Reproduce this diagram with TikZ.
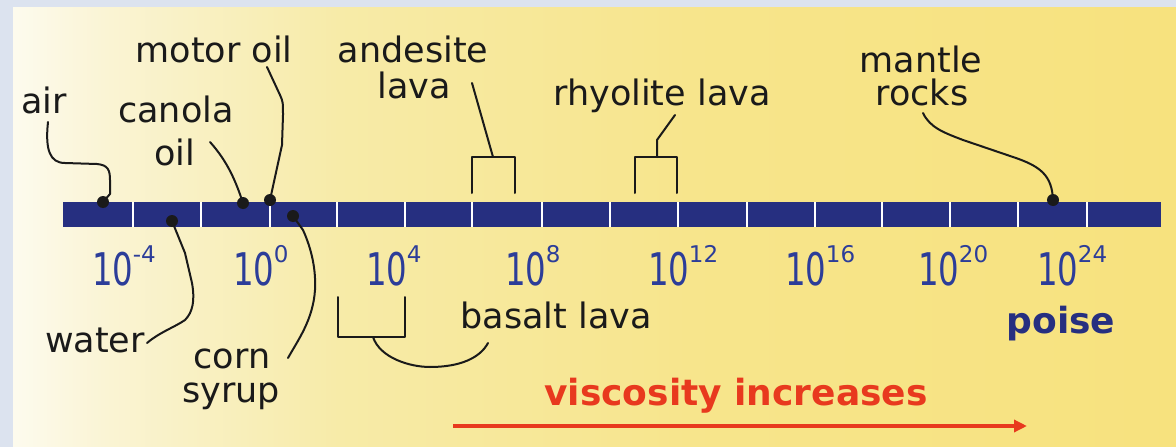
\documentclass[tikz,border=0pt]{standalone}
\usepackage{fontspec}
\setmainfont{DejaVu Sans}
\usepackage{graphicx}
\usetikzlibrary{arrows.meta}
\definecolor{framecol}{HTML}{DCE3EF}
\definecolor{bgA}{HTML}{FDFBEE}
\definecolor{bgB}{HTML}{FAF4D4}
\definecolor{bgC}{HTML}{F7EBA8}
\definecolor{bgD}{HTML}{F7E58C}
\definecolor{bgE}{HTML}{F7E27E}
\definecolor{barblue}{HTML}{262F80}
\definecolor{ticklbl}{HTML}{2C3D99}
\definecolor{redtxt}{HTML}{E8391E}
\definecolor{inkcol}{HTML}{1A1A1A}
\pgfdeclarehorizontalshading{bgshade}{100bp}{color(0bp)=(bgA); color(25bp)=(bgA); color(29bp)=(bgB); color(39bp)=(bgC); color(54bp)=(bgD); color(75bp)=(bgE); color(100bp)=(bgE)}
\newcommand{\tenpow}[1]{\scalebox{0.72}[1]{\fontsize{45}{45}\selectfont 10}\hspace{-0.5pt}\raisebox{23pt}{\fontsize{23}{23}\selectfont #1}}
\begin{document}
\begin{tikzpicture}[x=1pt,y=-1pt,
  lbl/.style={font=\fontsize{35}{40}\selectfont, inner sep=0pt, anchor=base, text=inkcol},
  ticklabel/.style={inner sep=0pt, anchor=base west, text=ticklbl},
  conn/.style={line width=2pt, inkcol, line join=round, line cap=round},
  dotmark/.style={fill=inkcol}]
\useasboundingbox (0,0) rectangle (1176,447);
\fill[framecol] (0,0) rectangle (1176,447);
\shade[shading=bgshade] (13,7) rectangle (1176,447);

% scale bar
\fill[barblue] (63,202) rectangle (1161,227);
\foreach \x in {133,201,270,337,405,472,542,610,678,747,815,882,950,1018,1087}
  \draw[white, line width=2pt] (\x,202) -- (\x,227);

% tick labels
\node[ticklabel] (t1) at (92,285) {\tenpow{-4}};
\node[ticklabel] (t2) at (233,285) {\tenpow{0}};
\node[ticklabel] (t3) at (366,285) {\tenpow{4}};
\node[ticklabel] (t4) at (505,285) {\tenpow{8}};
\node[ticklabel] (t5) at (648,285) {\tenpow{12}};
\node[ticklabel] (t6) at (785,285) {\tenpow{16}};
\node[ticklabel] (t7) at (918,285) {\tenpow{20}};
\node[ticklabel] (t8) at (1037,285) {\tenpow{24}};

% labels
\node[lbl] (air) at (44,113) {air};
\node[lbl] (motor) at (214,62) {motor oil};
\node[lbl] (canola) at (176,122) {canola};
\node[lbl] (canolaoil) at (175,165) {oil};
\node[lbl] (andesite) at (413,62) {andesite};
\node[lbl] (andesitelava) at (414,98) {lava};
\node[lbl] (rhyolite) at (662,105) {rhyolite lava};
\node[lbl] (mantle) at (921,72) {mantle};
\node[lbl] (rocks) at (922,105) {rocks};
\node[lbl] (water) at (95,352) {water};
\node[lbl] (corn) at (232,368) {corn};
\node[lbl] (syrup) at (231,402) {syrup};
\node[lbl] (basalt) at (556,328) {basalt lava};
\node[font=\fontsize{36}{40}\selectfont\bfseries, inner sep=0pt, anchor=base, text=barblue] (poise) at (1061,333) {poise};
\node[font=\fontsize{36}{40}\selectfont\bfseries, inner sep=0pt, anchor=base, text=redtxt] (visc) at (736,405) {viscosity increases};

% marker points
\coordinate (dAir) at (103,202);
\coordinate (dCanola) at (243,203);
\coordinate (dMotor) at (270,200);
\coordinate (dWater) at (172,221);
\coordinate (dCorn) at (293,216);
\coordinate (dMantle) at (1053,200);
\foreach \p in {dAir,dCanola,dMotor,dWater,dCorn,dMantle}
  \fill[dotmark] (\p) circle[radius=6pt];

% connector start points near labels
\coordinate (sAir) at (48,122);
\coordinate (sCanola) at (210,142);
\coordinate (sMotor) at (267,67);
\coordinate (sWater) at (147,343);
\coordinate (sCorn) at (288,358);
\coordinate (sAndesite) at (472,83);
\coordinate (sRhyolite) at (675,115);
\coordinate (sMantle) at (923,113);
\coordinate (sBasalt) at (488,343);

% brackets
\coordinate (aTop) at (493,157);
\draw[conn] (472,193) -- (472,157) -- (515,157) -- (515,193);
\coordinate (rTop) at (657,157);
\draw[conn] (635,193) -- (635,157) -- (677,157) -- (677,193);
\coordinate (bBot) at (373,337);
\draw[conn] (338,297) -- (338,337) -- (405,337) -- (405,297);

% connectors
\draw[conn] (sAir) .. controls (45,150) and (50,163) .. (65,163) -- (97,164)
  .. controls (108,165) and (110,170) .. (110,180) -- (110,194) -- (dAir);
\draw[conn] (sCanola) .. controls (228,162) and (236,182) .. (dCanola);
\draw[conn] (sMotor) -- (280,95) .. controls (283,102) .. (283,115) -- (282,145) -- (dMotor);
\draw[conn] (dWater) -- (185,253) -- (192,283) .. controls (195,300) and (193,312) .. (185,320)
  .. controls (175,327) and (160,332) .. (sWater);
\draw[conn] (dCorn) -- (303,230) .. controls (312,250) and (316,270) .. (315,290)
  .. controls (313,320) and (298,340) .. (sCorn);
\draw[conn] (sAndesite) -- (aTop);
\draw[conn] (sRhyolite) -- (657,140) -- (rTop);
\draw[conn] (sMantle) .. controls (930,128) and (945,133) .. (963,140) -- (1013,157)
  .. controls (1040,166) and (1052,175) .. (dMantle);
\draw[conn] (bBot) .. controls (380,358) and (410,367) .. (430,367)
  .. controls (460,367) and (480,358) .. (sBasalt);

% arrow
\coordinate (arrS) at (453,426);
\coordinate (arrE) at (1027,426);
\draw[redtxt, line width=4pt, -{Triangle[length=13pt,width=12pt]}] (arrS) -- (arrE);
\end{tikzpicture}
\end{document}
